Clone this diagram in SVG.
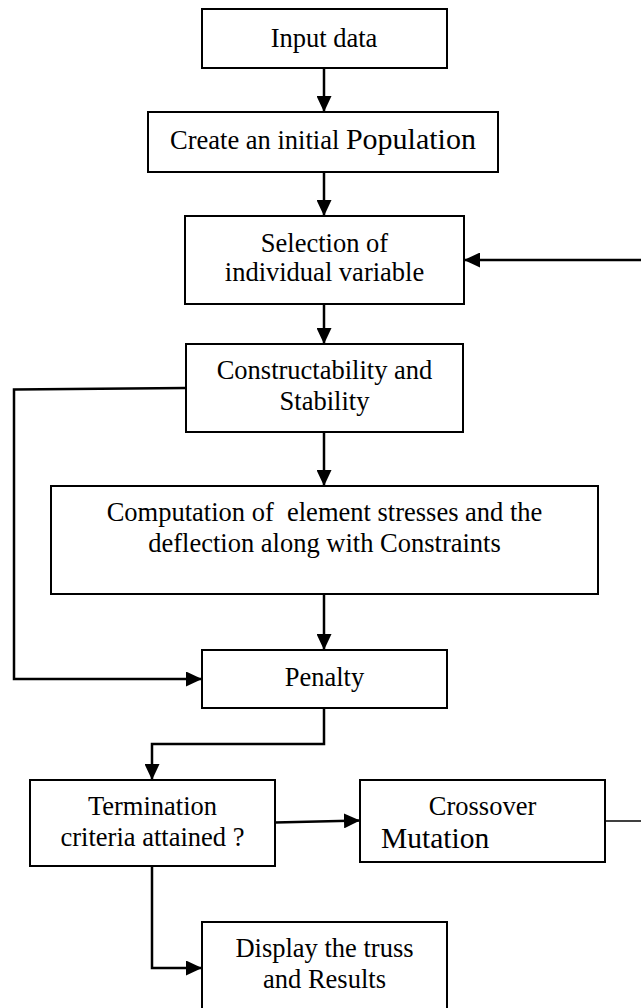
<svg xmlns="http://www.w3.org/2000/svg" width="641" height="1008" viewBox="0 0 641 1008">
<style>
.box{fill:#fff;stroke:#000;stroke-width:2}
.t{font-family:"Liberation Serif","Times New Roman",serif;font-size:26.5px;fill:#000;text-anchor:middle}
.ts{font-family:"Liberation Serif","Times New Roman",serif;font-size:29.5px;fill:#000;text-anchor:start}
.c{fill:none;stroke:#000;stroke-width:2.5}
.thin{fill:none;stroke:#000;stroke-width:1.5}
</style>
<defs>
<marker id="ah" markerUnits="userSpaceOnUse" markerWidth="16" markerHeight="15" refX="16" refY="7.5" orient="auto">
<path d="M0,0 L16,7.5 L0,15 z" fill="#000"/>
</marker>
</defs>
<rect width="641" height="1008" fill="#fff"/>
<g id="connectors">
<line class="c" x1="324" y1="68" x2="324" y2="112" marker-end="url(#ah)"/>
<line class="c" x1="324" y1="172" x2="324" y2="216" marker-end="url(#ah)"/>
<line class="c" x1="324" y1="304" x2="324" y2="344" marker-end="url(#ah)"/>
<line class="c" x1="324" y1="432" x2="324" y2="486" marker-end="url(#ah)"/>
<line class="c" x1="324" y1="594" x2="324" y2="650" marker-end="url(#ah)"/>
<polyline class="c" points="186,388 14,389.5 14,679 202,679" marker-end="url(#ah)"/>
<polyline class="c" points="324,708 324,744 152,744 152,780" marker-end="url(#ah)"/>
<line class="c" x1="275" y1="822.5" x2="360" y2="820.5" marker-end="url(#ah)"/>
<polyline class="c" points="152,866 152,968 202,968" marker-end="url(#ah)"/>
<line class="thin" x1="605" y1="821" x2="641" y2="821"/>
<line class="c" x1="641" y1="260" x2="464" y2="260" marker-end="url(#ah)"/>
</g>
<g id="input">
<rect class="box" x="202" y="9" width="245" height="59"/>
<text class="t" x="324" y="47">Input data</text>
</g>
<g id="create">
<rect class="box" x="148" y="112" width="350" height="60"/>
<text class="t" x="323" y="149">Create an initial <tspan font-size="30">Population</tspan></text>
</g>
<g id="selection">
<rect class="box" x="185" y="216" width="279" height="88"/>
<text class="t" x="324.5" y="252">Selection of</text>
<text class="t" x="324.5" y="281">individual variable</text>
</g>
<g id="constructability">
<rect class="box" x="186" y="344" width="277" height="88"/>
<text class="t" x="324.5" y="379">Constructability and</text>
<text class="t" x="324.5" y="410">Stability</text>
</g>
<g id="computation">
<rect class="box" x="51" y="486" width="547" height="108"/>
<text class="t" x="324.5" y="521" xml:space="preserve">Computation of  element stresses and the</text>
<text class="t" x="324.5" y="552">deflection along with Constraints</text>
</g>
<g id="penalty">
<rect class="box" x="202" y="650" width="245" height="58"/>
<text class="t" x="324.5" y="686">Penalty</text>
</g>
<g id="termination">
<rect class="box" x="30" y="780" width="245" height="86"/>
<text class="t" x="152.5" y="815">Termination</text>
<text class="t" x="152.5" y="846">criteria attained ?</text>
</g>
<g id="crossover">
<rect class="box" x="360" y="780" width="245" height="82"/>
<text class="t" x="482.5" y="815">Crossover</text>
<text class="ts" x="381" y="848">Mutation</text>
</g>
<g id="display">
<rect class="box" x="202" y="922" width="245" height="100"/>
<text class="t" x="324.5" y="957">Display the truss</text>
<text class="t" x="324.5" y="988">and Results</text>
</g>
</svg>
